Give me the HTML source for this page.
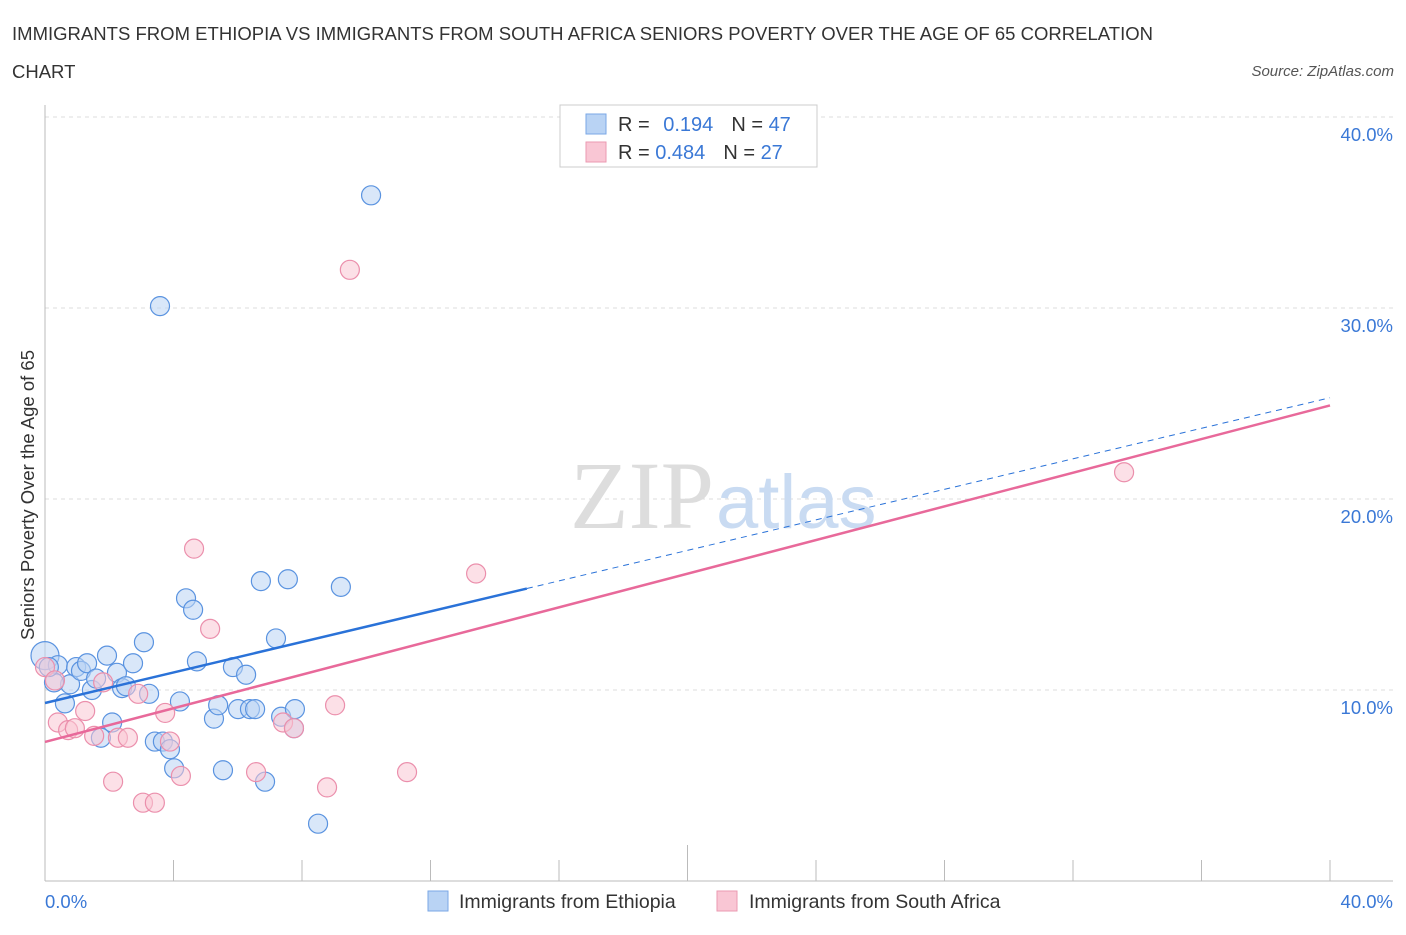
<!DOCTYPE html>
<html><head><meta charset="utf-8"><style>
body{margin:0;background:#fff;font-family:"Liberation Sans",sans-serif;}
</style></head><body>
<svg width="1406" height="930" xmlns="http://www.w3.org/2000/svg">
<text x="12" y="40" font-size="18.5" fill="#333" textLength="1141">IMMIGRANTS FROM ETHIOPIA VS IMMIGRANTS FROM SOUTH AFRICA SENIORS POVERTY OVER THE AGE OF 65 CORRELATION</text>
<text x="12" y="78" font-size="18.5" fill="#333">CHART</text>
<text x="1394" y="76" font-size="15" fill="#555" font-style="italic" text-anchor="end">Source: ZipAtlas.com</text>
<g id="grid"></g>
<text x="714" y="528" font-size="96" fill="#ddd" font-family="Liberation Serif,serif" text-anchor="end">ZIP</text>
<text x="716" y="528" font-size="76" fill="#c9dbf2">atlas</text>
<g id="marks"></g>
<text x="34" y="495" font-size="18.5" fill="#333" text-anchor="middle" transform="rotate(-90 34 495)">Seniors Poverty Over the Age of 65</text>
<text x="45" y="908" font-size="18.5" fill="#3a78d6">0.0%</text>
<text x="1393" y="908" font-size="18.5" fill="#3a78d6" text-anchor="end">40.0%</text>
<g>
<rect x="560" y="105" width="257" height="62" fill="#fff" stroke="#ccc"/>
<rect x="586" y="114" width="20" height="20" fill="#b9d3f4" stroke="#7aa7e6"/>
<rect x="586" y="142" width="20" height="20" fill="#f9c6d4" stroke="#eb9ab2"/>
<text x="618" y="131" font-size="20" fill="#333">R = <tspan fill="#3a78d6" dx="8">0.194</tspan><tspan dx="18" fill="#333">N = </tspan><tspan fill="#3a78d6">47</tspan></text>
<text x="618" y="159" font-size="20" fill="#333">R = <tspan fill="#3a78d6">0.484</tspan><tspan dx="18" fill="#333">N = </tspan><tspan fill="#3a78d6">27</tspan></text>
</g>
<g>
<rect x="428" y="891" width="20" height="20" fill="#b9d3f4" stroke="#7aa7e6"/>
<text x="459" y="908" font-size="19.5" fill="#333">Immigrants from Ethiopia</text>
<rect x="717" y="891" width="20" height="20" fill="#f9c6d4" stroke="#eb9ab2"/>
<text x="749" y="908" font-size="19.5" fill="#333">Immigrants from South Africa</text>
</g>
</svg>
<script>
const blueX=[0,0.4,0.78,0.28,0.97,1.12,1.31,1.46,1.59,0.62,1.74,1.93,2.09,2.24,2.40,2.52,2.74,3.08,3.24,3.42,3.67,3.89,4.02,4.20,4.39,4.61,4.73,5.26,5.39,5.54,5.85,6.01,6.26,6.38,6.54,6.72,6.85,7.19,7.35,7.56,7.75,7.78,8.50,9.21,3.58,10.15,0.12];
const blueY=[11.8,11.3,10.3,10.4,11.2,11.0,11.4,10.0,10.6,9.3,7.5,11.8,8.3,10.9,10.1,10.2,11.4,12.5,9.8,7.3,7.3,6.9,5.9,9.4,14.8,14.2,11.5,8.5,9.2,5.8,11.2,9.0,10.8,9.0,9.0,15.7,5.2,12.7,8.6,15.8,8.0,9.0,3.0,15.4,30.1,35.9,11.2];
const pinkX=[0,0.31,0.40,0.72,0.93,1.25,1.53,1.81,2.12,2.27,2.58,2.90,3.05,3.42,3.74,3.89,4.23,4.64,5.14,6.57,7.41,7.75,8.78,9.03,9.49,11.27,13.42,33.59];
const pinkY=[11.2,10.5,8.3,7.9,8.0,8.9,7.6,10.4,5.2,7.5,7.5,9.8,4.1,4.1,8.8,7.3,5.5,17.4,13.2,5.7,8.3,8.0,4.9,9.2,32.0,5.7,16.1,21.4];
const yTicks=[10,20,30,40];
const blueTrend=[9.32,25.3];
const pinkTrend=[7.28,24.9];
const blueSolidEnd=15.0;
const NS="http://www.w3.org/2000/svg";
const sx=v=>45+v*1285/40, sy=v=>881-v*19.1;
function mk(t,a,p){const e=document.createElementNS(NS,t);for(const k in a)e.setAttribute(k,a[k]);p.appendChild(e);return e;}
const grid=document.getElementById('grid'),marks=document.getElementById('marks');
yTicks.forEach(t=>{
 const l=mk('line',{x1:45,x2:1393,y1:sy(t),y2:sy(t),stroke:'#ddd','stroke-dasharray':'4,4'},grid);
 
 
 const tx=mk('text',{x:1393,y:sy(t)+24,'font-size':18.5,fill:'#3a78d6','text-anchor':'end'},grid);
 tx.textContent=t.toFixed(1)+'%';
 
 
});
const ax=mk('line',{x1:45,x2:45,y1:105,y2:881,stroke:'#bbb'},grid);


const bx=mk('line',{x1:45,x2:1393,y1:881,y2:881,stroke:'#bbb'},grid);


for(let i=0;i<=10;i++){const v=i*4;const tk=mk('line',{x1:sx(v),x2:sx(v),y1:i==5?845:860,y2:881,stroke:'#bbb'},grid);
 
 }
function pts(xs,ys,fill,stroke,name){xs.forEach((x,i)=>{const r=(x===0&&i===0&&name==='blue')?14:9.5;
 const c=mk('circle',{cx:sx(x),cy:sy(ys[i]),r:r,fill:fill,'fill-opacity':0.55,stroke:stroke,'stroke-width':1.2},marks);
 
 });}
pts(blueX,blueY,'#b9d3f4','#5a93e0','blue');
pts(pinkX,pinkY,'#f9c6d4','#eb8fac','pink');
const bt=v=>blueTrend[0]+(blueTrend[1]-blueTrend[0])*v/40, pt=v=>pinkTrend[0]+(pinkTrend[1]-pinkTrend[0])*v/40;
const l1=mk('line',{x1:sx(0),y1:sy(bt(0)),x2:sx(blueSolidEnd),y2:sy(bt(blueSolidEnd)),stroke:'#2a72d8','stroke-width':2.5},marks);


const l2=mk('line',{x1:sx(blueSolidEnd),y1:sy(bt(blueSolidEnd)),x2:sx(40),y2:sy(bt(40)),stroke:'#2a72d8','stroke-width':1,'stroke-dasharray':'6,5'},marks);


const l3=mk('line',{x1:sx(0),y1:sy(pt(0)),x2:sx(40),y2:sy(pt(40)),stroke:'#e8699a','stroke-width':2.5},marks);


</script>
</body></html>
